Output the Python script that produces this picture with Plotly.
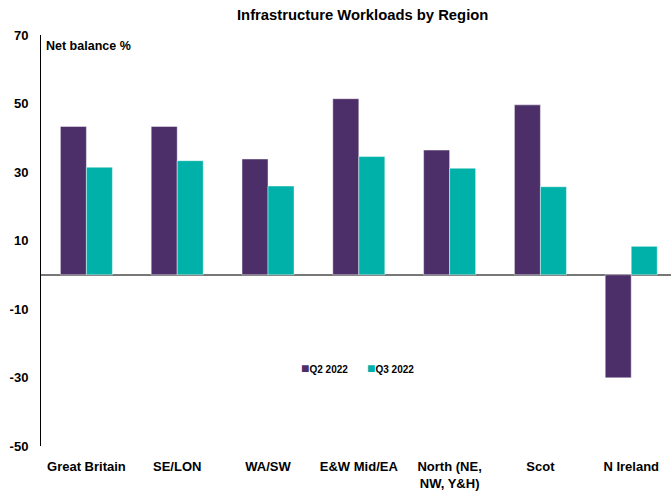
import plotly.graph_objects as go

categories = ["Great Britain", "SE/LON", "WA/SW", "E&W Mid/EA", "North (NE,<br>NW, Y&H)", "Scot", "N Ireland"]
q2_2022 = [43.3, 43.3, 33.8, 51.4, 36.4, 49.6, -30.1]
q3_2022 = [31.4, 33.3, 25.9, 34.5, 31.1, 25.7, 8.3]
series_names = ["Q2 2022", "Q3 2022"]
y_ticks = [-50, -30, -10, 10, 30, 50, 70]
y_tick_labels = ["-50", "-30", "-10", "10", "30", "50", "70"]

FONT = "Liberation Sans, Arial, sans-serif"
PURPLE = "#4C2F68"
TEAL = "#00B1A9"
colors = [PURPLE, TEAL]

fig = go.Figure()
for name, vals, col in zip(series_names, [q2_2022, q3_2022], colors):
    fig.add_trace(go.Bar(name=name, x=categories, y=vals, marker_color=col,
                         marker_line=dict(color="rgba(255,255,255,0.45)", width=1)))

fig.update_layout(
    width=671, height=495,
    margin=dict(l=41, r=0, t=35, b=49, autoexpand=False),
    paper_bgcolor="white", plot_bgcolor="white",
    barmode="group", bargap=0.427, bargroupgap=0,
    font=dict(family=FONT, size=13, color="black", weight="bold"),
    showlegend=False,
)
fig.update_xaxes(range=[-0.5, 6.438], automargin=False, showgrid=False, showline=False, ticks="",
                 ticklabelstandoff=11,
                 tickfont=dict(family=FONT, size=13, color="black", weight="bold"))
fig.update_yaxes(range=[-50, 70], tickvals=y_ticks, ticktext=y_tick_labels, automargin=False,
                 showgrid=False, showline=True, linecolor="black", linewidth=1, ticks="",
                 ticklabelstandoff=9,
                 zeroline=True, zerolinecolor="#777777", zerolinewidth=2,
                 tickfont=dict(family=FONT, size=13, color="black", weight="bold"))

# title
fig.add_annotation(text="Infrastructure Workloads by Region", xref="paper", yref="paper",
                   x=(362.5 - 41) / 630, y=1, yshift=20, showarrow=False,
                   xanchor="center", yanchor="middle",
                   font=dict(family=FONT, size=14.8, color="black", weight="bold"))
# axis unit label
fig.add_annotation(text="Net balance %", xref="paper", yref="paper",
                   x=0, xshift=3, y=1, yshift=-11, showarrow=False,
                   xanchor="left", yanchor="middle",
                   font=dict(family=FONT, size=12.5, color="black", weight="bold"))
# legend (text based, small square keys)
legend_x = [(299 - 41) / 630, (365 - 41) / 630]
for name, col, lx in zip(series_names, colors, legend_x):
    fig.add_annotation(text=f'<span style="color:{col};font-size:14px">■</span>{name}',
                       xref="paper", yref="paper", x=lx, y=(446 - 368) / 411,
                       showarrow=False, xanchor="left", yanchor="middle",
                       font=dict(family=FONT, size=10, color="black", weight="bold"))

fig.write_html("out.html", config={"displayModeBar": False},
               post_script="document.body.style.margin='0';document.body.style.padding='0';")
